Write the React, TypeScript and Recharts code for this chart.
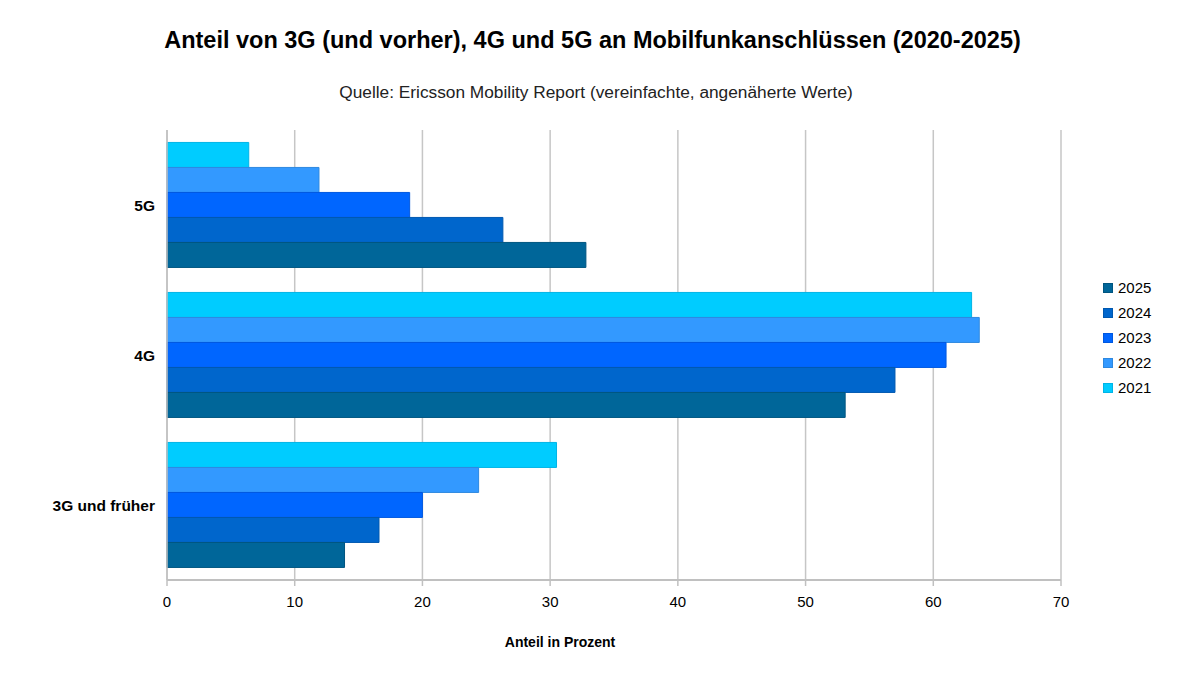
import React from 'react'
import { BarChart, Bar, XAxis, YAxis, CartesianGrid, Legend } from 'recharts'

const categories = ['5G', '4G', '3G und früher']
const years = ['2021', '2022', '2023', '2024', '2025']
const share2021 = [6.4, 63.0, 30.5]
const share2022 = [11.9, 63.6, 24.4]
const share2023 = [19.0, 61.0, 20.0]
const share2024 = [26.3, 57.0, 16.6]
const share2025 = [32.8, 53.1, 13.9]
const xTicks = [0, 10, 20, 30, 40, 50, 60, 70]

const fills: Record<string, string> = {
  '2021': '#00ccff',
  '2022': '#3399ff',
  '2023': '#0066ff',
  '2024': '#0066cc',
  '2025': '#006699',
}
const strokes: Record<string, string> = {
  '2021': '#00b4e6',
  '2022': '#2e88e0',
  '2023': '#0058e0',
  '2024': '#0058b0',
  '2025': '#005580',
}

const seriesValues = [share2021, share2022, share2023, share2024, share2025]
const data = categories.map((name, i) => {
  const row: Record<string, string | number> = { name }
  years.forEach((y, k) => {
    row[y] = seriesValues[k][i]
  })
  return row
})

const font = '"Liberation Sans", Arial, sans-serif'

function LegendBox() {
  return (
    <div style={{ fontFamily: font, fontSize: 15, color: '#000' }}>
      {[...years].reverse().map((y) => (
        <div key={y} style={{ display: 'flex', alignItems: 'center', height: 25 }}>
          <span style={{ width: 8, height: 8, background: fills[y], border: `1px solid ${strokes[y]}`, marginRight: 5 }} />
          <span>{y}</span>
        </div>
      ))}
    </div>
  )
}

export default function App() {
  return (
    <div style={{ position: 'fixed', left: 0, top: 0, width: 1200, height: 675, background: '#fff', fontFamily: font }}>
      <div style={{ position: 'absolute', left: 0, top: 27, width: 1185, textAlign: 'center', fontSize: 23.5, fontWeight: 'bold', color: '#000' }}>
        Anteil von 3G (und vorher), 4G und 5G an Mobilfunkanschlüssen (2020-2025)
      </div>
      <div style={{ position: 'absolute', left: 0, top: 82, width: 1192, textAlign: 'center', fontSize: 17.3, color: '#222' }}>
        Quelle: Ericsson Mobility Report (vereinfachte, angenäherte Werte)
      </div>
      <BarChart
        width={1200}
        height={675}
        data={data}
        layout="vertical"
        margin={{ top: 130, right: 139, bottom: 0, left: 0 }}
        barCategoryGap="8.3%"
        barGap={0}
      >
        <CartesianGrid horizontal={false} stroke="#c6c6c6" strokeWidth={1.5} />
        <XAxis
          type="number"
          domain={[0, 70]}
          ticks={xTicks}
          height={95}
          tickSize={6}
          tickLine={{ stroke: '#c0c0c0', strokeWidth: 1.5 }}
          tickMargin={10}
          axisLine={{ stroke: '#c0c0c0', strokeWidth: 2 }}
          tick={{ fill: '#000', fontSize: 15, fontFamily: font }}
          label={{
            value: 'Anteil in Prozent',
            position: 'insideBottom',
            offset: 28,
            dx: -54,
            style: { fill: '#000', fontSize: 14, fontWeight: 'bold', fontFamily: font },
          }}
        />
        <XAxis
          xAxisId="top"
          type="number"
          orientation="top"
          domain={[0, 70]}
          height={0}
          tick={false}
          tickLine={false}
          axisLine={{ stroke: '#c6c6c6', strokeWidth: 1.5 }}
        />
        <YAxis
          type="category"
          dataKey="name"
          width={167}
          tickLine={false}
          tickMargin={6}
          axisLine={{ stroke: '#c0c0c0', strokeWidth: 1.5 }}
          tick={{ fill: '#000', fontSize: 15.5, fontWeight: 'bold', fontFamily: font }}
        />
        <Legend
          layout="vertical"
          align="center"
          verticalAlign="middle"
          content={<LegendBox />}
          wrapperStyle={{ left: 1103, top: 275, width: 80 }}
        />
        {years.map((y) => (
          <Bar
            key={y}
            dataKey={y}
            name={y}
            fill={fills[y]}
            stroke={strokes[y]}
            strokeWidth={1}
            isAnimationActive={false}
          />
        ))}
      </BarChart>
    </div>
  )
}
